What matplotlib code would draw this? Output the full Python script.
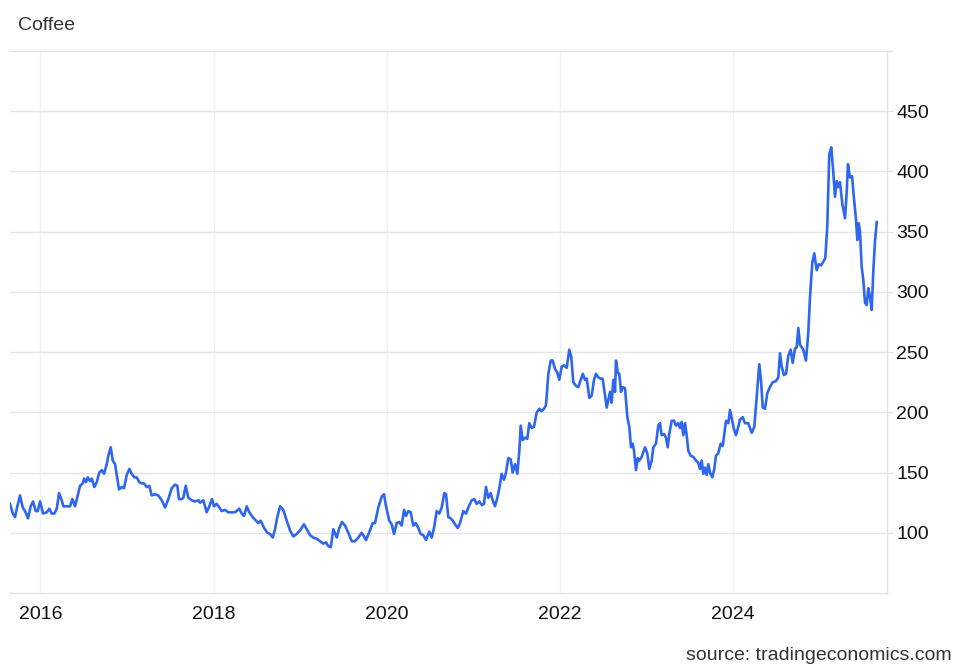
import matplotlib
matplotlib.use("Agg")
import matplotlib.pyplot as plt

plt.rcParams['font.family'] = ['Liberation Sans', 'DejaVu Sans']

title = "Coffee"
source = "source: tradingeconomics.com"

# decimal-year dates and coffee price (USd/lb)
dates = [
    2015.650, 2015.682, 2015.708, 2015.728, 2015.766, 2015.797, 2015.824, 2015.858, 2015.889, 2015.916,
    2015.947, 2015.970, 2015.997, 2016.031, 2016.074, 2016.104, 2016.132, 2016.162, 2016.190, 2016.216,
    2016.247, 2016.266, 2016.305, 2016.343, 2016.370, 2016.401, 2016.432, 2016.459, 2016.490, 2016.505,
    2016.528, 2016.547, 2016.574, 2016.594, 2016.624, 2016.651, 2016.681, 2016.709, 2016.736, 2016.767,
    2016.785, 2016.813, 2016.836, 2016.863, 2016.882, 2016.909, 2016.940, 2016.966, 2016.998, 2017.028,
    2017.055, 2017.085, 2017.113, 2017.143, 2017.171, 2017.197, 2017.228, 2017.258, 2017.286, 2017.324,
    2017.362, 2017.402, 2017.440, 2017.478, 2017.517, 2017.555, 2017.582, 2017.601, 2017.633, 2017.651,
    2017.679, 2017.709, 2017.748, 2017.786, 2017.824,
    2017.844, 2017.882, 2017.921, 2017.951, 2017.982, 2018.005, 2018.037, 2018.067, 2018.094, 2018.132,
    2018.171, 2018.210, 2018.248, 2018.297, 2018.325, 2018.352, 2018.383, 2018.413, 2018.452, 2018.490,
    2018.517, 2018.545, 2018.583, 2018.621, 2018.652, 2018.683, 2018.710, 2018.736, 2018.767, 2018.805,
    2018.845, 2018.883, 2018.921, 2018.960, 2018.998, 2019.044, 2019.075, 2019.114, 2019.152, 2019.191,
    2019.229, 2019.267, 2019.298, 2019.325, 2019.353, 2019.383, 2019.422, 2019.452, 2019.483, 2019.518,
    2019.556, 2019.595, 2019.633, 2019.671, 2019.710, 2019.729, 2019.760, 2019.806, 2019.837, 2019.864,
    2019.902, 2019.941, 2019.968,
    2019.991, 2020.029, 2020.057, 2020.083, 2020.114, 2020.144, 2020.172, 2020.199, 2020.222, 2020.248,
    2020.276, 2020.306, 2020.334, 2020.364, 2020.391, 2020.421, 2020.453, 2020.491, 2020.518, 2020.545,
    2020.576, 2020.606, 2020.634, 2020.664, 2020.684, 2020.710, 2020.738, 2020.761, 2020.788, 2020.819,
    2020.845, 2020.883, 2020.915, 2020.941, 2020.980, 2021.010, 2021.038, 2021.068, 2021.099, 2021.122,
    2021.145, 2021.172, 2021.199, 2021.222, 2021.249, 2021.276, 2021.299, 2021.326, 2021.353, 2021.376,
    2021.403, 2021.430, 2021.453, 2021.480, 2021.507, 2021.530, 2021.546, 2021.569, 2021.596, 2021.622,
    2021.645, 2021.673, 2021.699, 2021.731, 2021.761, 2021.788, 2021.815, 2021.838, 2021.865, 2021.892,
    2021.915, 2021.942, 2021.968, 2021.991,
    2022.019, 2022.046, 2022.077, 2022.107, 2022.130, 2022.153, 2022.184, 2022.211, 2022.239, 2022.262,
    2022.288, 2022.308, 2022.338, 2022.366, 2022.392, 2022.415, 2022.442, 2022.469, 2022.492, 2022.519,
    2022.539, 2022.557, 2022.577, 2022.596, 2022.615, 2022.635, 2022.646, 2022.666, 2022.684, 2022.704,
    2022.723, 2022.750, 2022.777, 2022.800, 2022.819, 2022.839, 2022.854, 2022.877, 2022.897, 2022.915,
    2022.943, 2022.981, 2023.007, 2023.031, 2023.058, 2023.077, 2023.108, 2023.134, 2023.154, 2023.173,
    2023.200, 2023.223, 2023.243, 2023.261, 2023.289, 2023.316, 2023.339, 2023.365, 2023.385, 2023.404,
    2023.423, 2023.443, 2023.462, 2023.481, 2023.508, 2023.538, 2023.570, 2023.596, 2023.616, 2023.635,
    2023.654, 2023.673, 2023.693, 2023.712, 2023.731, 2023.758, 2023.781, 2023.800, 2023.827, 2023.855,
    2023.878, 2023.896, 2023.916, 2023.943, 2023.962, 2023.982, 2024.008, 2024.031, 2024.058, 2024.077,
    2024.109, 2024.135, 2024.173, 2024.213, 2024.243, 2024.270, 2024.300, 2024.320, 2024.340, 2024.366,
    2024.393, 2024.424, 2024.455, 2024.493, 2024.520, 2024.539, 2024.559, 2024.585, 2024.609, 2024.635,
    2024.663, 2024.686, 2024.713, 2024.732, 2024.751, 2024.770, 2024.790, 2024.808, 2024.839, 2024.866,
    2024.886, 2024.912, 2024.935, 2024.963, 2024.986, 2025.013, 2025.039, 2025.062, 2025.085, 2025.108,
    2025.131, 2025.155, 2025.174, 2025.194, 2025.212, 2025.232, 2025.259, 2025.290, 2025.309, 2025.324,
    2025.347, 2025.371, 2025.394, 2025.417, 2025.432, 2025.448, 2025.463, 2025.482, 2025.501, 2025.521,
    2025.540, 2025.559, 2025.578, 2025.598, 2025.617, 2025.637, 2025.656,
]
prices = [
    124, 116, 113, 120, 131, 121, 118, 112, 122, 126,
    118, 118, 126, 116, 117, 120, 116, 116, 120, 133,
    127, 122, 122, 122, 128, 122, 131, 139, 141, 145,
    142, 146, 143, 145, 138, 142, 150, 152, 149, 157,
    164, 171, 160, 157, 148, 136, 138, 137, 148, 153,
    149, 146, 146, 142, 141, 141, 138, 139, 131, 132,
    131, 127, 121, 128, 137, 140, 139, 128, 128, 129,
    139, 129, 127, 126, 127,
    125, 127, 117, 122, 128, 122, 124, 121, 118, 119,
    117, 117, 117, 120, 116, 114, 122, 117, 113, 110,
    108, 110, 104, 100, 99, 96, 103, 113, 122, 119,
    110, 102, 97, 99, 102, 107, 103, 98, 96, 95,
    93, 91, 92, 89, 88, 103, 96, 104, 109, 106,
    100, 93, 93, 96, 100, 98, 94, 102, 108, 108,
    121, 130, 132,
    122, 110, 107, 99, 108, 109, 106, 119, 114, 118,
    117, 106, 108, 104, 99, 98, 94, 101, 96, 104,
    118, 116, 121, 133, 132, 113, 112, 110, 107, 104,
    108, 118, 116, 121, 127, 128, 124, 126, 123, 124,
    138, 129, 133, 127, 122, 129, 137, 149, 144, 150,
    162, 161, 150, 157, 149, 168, 189, 177, 179, 178,
    191, 187, 188, 200, 203, 201, 203, 206, 232, 243,
    243, 236, 233, 227,
    238, 239, 237, 252, 246, 225, 222, 221, 227, 232,
    227, 228, 212, 214, 227, 232, 229, 228, 228, 214,
    204, 210, 217, 208, 227, 217, 243, 233, 232, 217,
    221, 220, 196, 188, 171, 174, 168, 152, 162, 160,
    163, 171, 166, 153, 160, 171, 174, 189, 191, 181,
    182, 179, 171, 182, 193, 193, 189, 191, 187, 192,
    181, 191, 181, 168, 164, 163, 160, 158, 153, 160,
    149, 154, 148, 157, 150, 146, 153, 164, 166, 174,
    172, 182, 193, 191, 202, 195, 186, 181, 188, 194,
    196, 191, 191, 183, 188, 213, 240, 227, 204, 203,
    216, 221, 225, 226, 229, 249, 238, 231, 232, 247,
    252, 241, 253, 254, 270, 256, 254, 252, 243, 266,
    296, 324, 332, 318, 323, 322, 325, 328, 354, 414,
    420, 399, 379, 392, 387, 391, 373, 361, 382, 406,
    395, 396, 377, 360, 343, 357, 350, 321, 310, 291,
    289, 303, 296, 285, 318, 343, 358,
]

x_ticks = [2016, 2018, 2020, 2022, 2024]
x_tick_labels = ["2016", "2018", "2020", "2022", "2024"]
y_ticks = [100, 150, 200, 250, 300, 350, 400, 450]
y_tick_labels = ["100", "150", "200", "250", "300", "350", "400", "450"]

fig = plt.figure(figsize=(9.66, 6.70), dpi=100)
ax = fig.add_axes([0.01035, 0.1149, 0.9079, 0.8090])

ax.plot(dates, prices, color='#2f66f0', linewidth=1.9, solid_joinstyle='round', zorder=3)

ax.set_xlim(2015.650, 2025.775)
ax.set_ylim(50, 500)

ax.set_xticks(x_ticks)
ax.set_xticklabels(x_tick_labels)
ax.set_yticks(y_ticks + [500])
ax.set_yticklabels(y_tick_labels + [""])
ax.yaxis.tick_right()

for s in ['left', 'top']:
    ax.spines[s].set_visible(False)
for s in ['right', 'bottom']:
    ax.spines[s].set_color('#e3e3e3')
    ax.spines[s].set_linewidth(1.0)

ax.grid(axis='y', color='#e6e6e6', linewidth=1.0, zorder=0)
ax.grid(axis='x', color='#eef1f5', linewidth=1.0, zorder=0)

ax.tick_params(axis='y', which='both', length=4.5, width=1.0, color='#e3e3e3',
               pad=2, labelsize=14, labelcolor='#111111')
ax.tick_params(axis='x', which='both', length=0, pad=9, labelsize=14, labelcolor='#111111')

fig.text(18/966, 1 - 26/670, title, fontsize=14, color='#333333', ha='left', va='center')
fig.text(952/966, 1 - 655/670, source, fontsize=14, color='#333333', ha='right', va='center')

fig.savefig('out.png', dpi=100, facecolor='white')
